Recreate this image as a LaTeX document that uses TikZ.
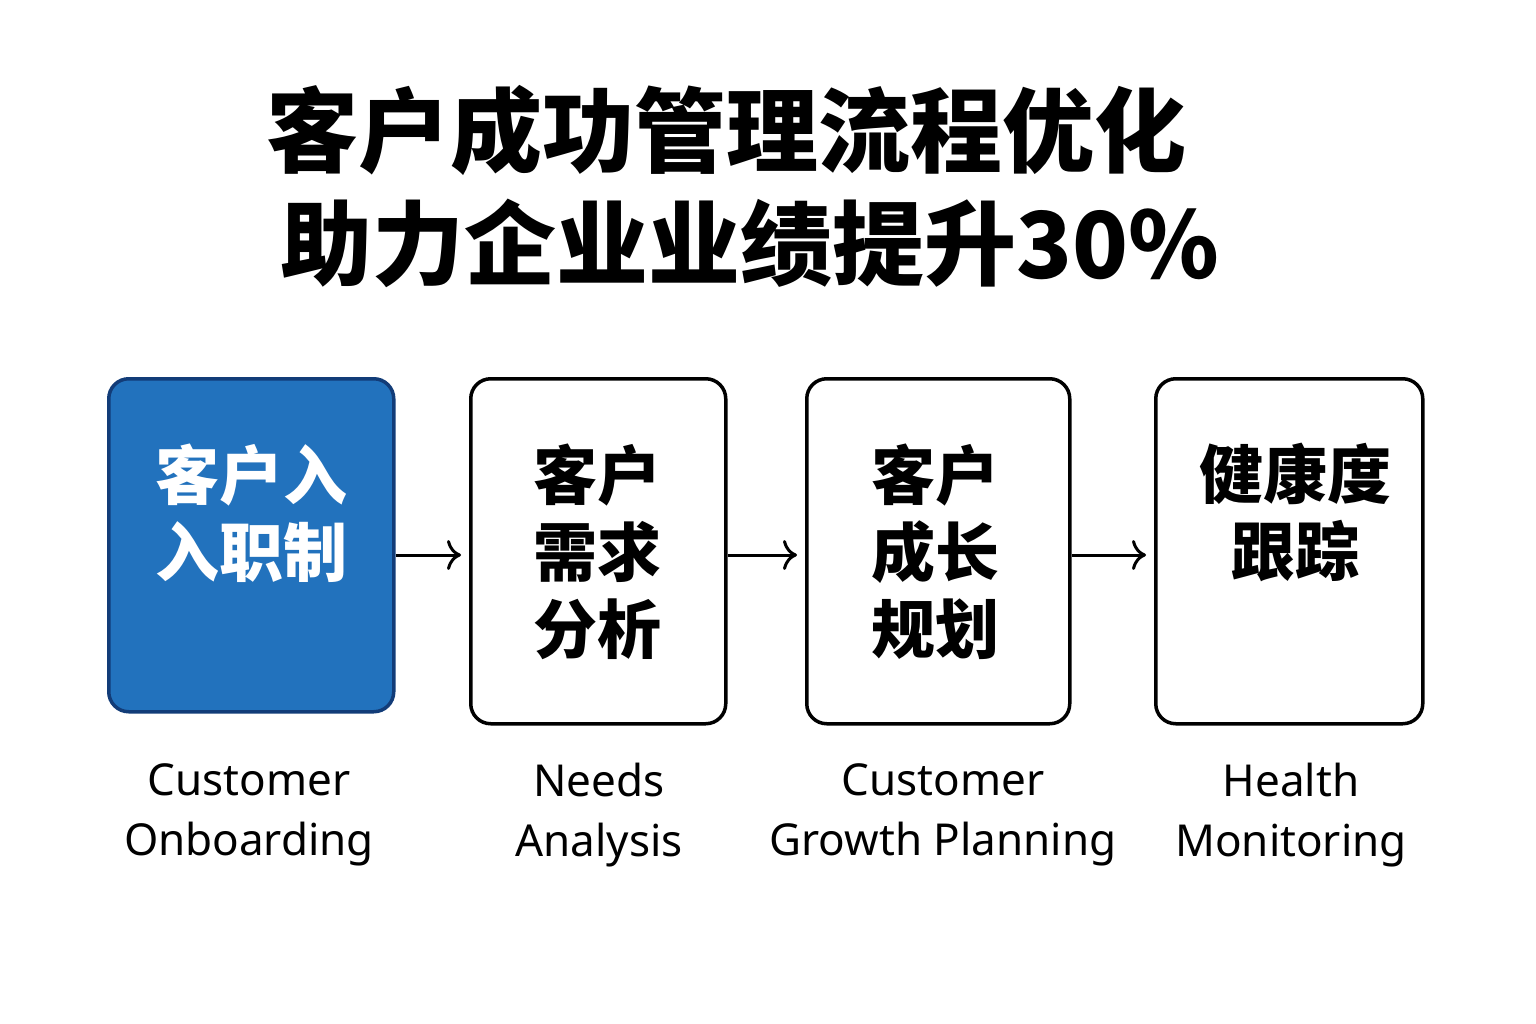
\documentclass[tikz,border=0pt]{standalone}
\usepackage{fontspec}
\setmainfont{Noto Sans}
\newfontfamily\cjk{Noto Sans CJK SC}
\usetikzlibrary{positioning,arrows.meta}
\definecolor{stageblue}{HTML}{2272BD}
\definecolor{stageedge}{HTML}{123C78}
\tikzset{
  stage/.style = {draw, line width=3.5pt, rounded corners=20pt, anchor=north west, inner sep=0pt},
  stagetext/.style = {font=\cjk\bfseries\fontsize{64}{77}\selectfont, align=center, anchor=north},
  caption/.style = {font=\fontsize{44}{60}\selectfont, align=center},
  flow/.style = {-{To[length=14pt,width=30pt]}, line width=3pt, shorten >=8pt}
}
\begin{document}
\begin{tikzpicture}[x=1pt, y=-1pt]
	\useasboundingbox[fill=white] (0,0) rectangle (1536,1024);
	% title
	\node[font=\cjk\bfseries\fontsize{92}{100}\selectfont] (t1) at (726,130) {客户成功管理流程优化};
	\node[font=\cjk\bfseries\fontsize{92}{100}\selectfont] (t2) at (750,243) {助力企业业绩提升30\%};
	% boxes
	\node[stage, fill=stageblue, draw=stageedge, minimum width=285pt, minimum height=333pt] (b1) at (107,377) {};
	\node[stage, minimum width=255pt, minimum height=345pt] (b2) at (469,377) {};
	\node[stage, minimum width=263pt, minimum height=345pt] (b3) at (805,377) {};
	\node[stage, minimum width=267pt, minimum height=345pt] (b4) at (1154,377) {};
	% box texts
	\node[stagetext, text=white] (s1) at (251,440) {客户入\\入职制};
	\node[stagetext] (s2) at (597,440) {客户\\需求\\分析};
	\node[stagetext] (s3) at (935,440) {客户\\成长\\规划};
	\node[stagetext] (s4) at (1295,440) {健康度\\跟踪};
	% captions
	\node[caption] (c1) at (249,815) {Customer\\Onboarding};
	\node[caption] (c2) at (599,815) {Needs\\Analysis};
	\node[caption] (c3) at (943,815) {Customer\\Growth Planning};
	\node[caption] (c4) at (1291,815) {Health\\Monitoring};
	% arrows
	\draw[flow] (b1.east |- 0,555) -- (b2.west |- 0,555);
	\draw[flow] (b2.east |- 0,555) -- (b3.west |- 0,555);
	\draw[flow] (b3.east |- 0,555) -- (b4.west |- 0,555);
\end{tikzpicture}
\end{document}
